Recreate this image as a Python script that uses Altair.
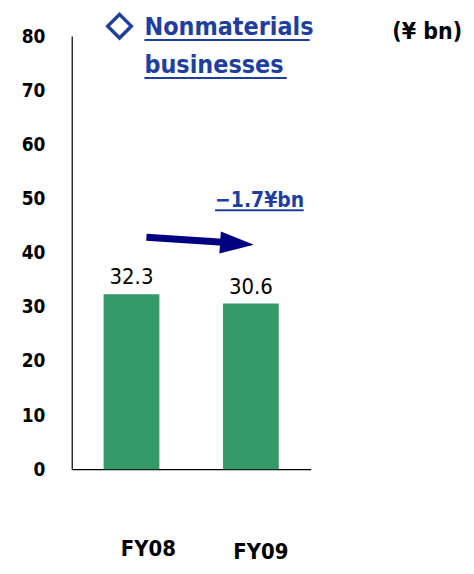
import altair as alt
import pandas as pd

categories = ["FY08", "FY09"]
values = [32.3, 30.6]
value_labels = ["32.3", "30.6"]
y_ticks = [0, 10, 20, 30, 40, 50, 60, 70, 80]
title_line1 = "Nonmaterials"
title_line2 = "businesses"
unit_text = "(¥ bn)"
change_text = "−1.7¥bn"

df = pd.DataFrame({"cat": categories, "val": values, "lbl": value_labels})

FONT = "'DejaVu Sans Condensed', 'Roboto Condensed', Roboto, sans-serif"
BLUE = "#1f3f9f"
GREEN = "#349966"
NAVY = "#000080"

xscale = alt.Scale(domain=categories, paddingInner=0.533, paddingOuter=0.267)
base = alt.Chart(df)

bars = base.mark_bar(color=GREEN).encode(
    x=alt.X("cat:N", scale=xscale, sort=categories,
            axis=alt.Axis(title=None, labels=False, ticks=False, domainColor="black", domainWidth=1.2)),
    y=alt.Y("val:Q", scale=alt.Scale(domain=[0, 80], nice=False),
            axis=alt.Axis(title=None, values=y_ticks, ticks=False, grid=False,
                          domainColor="black", domainWidth=1.2,
                          labelFont=FONT, labelFontWeight="bold",
                          labelFontSize=19, labelColor="black", labelPadding=27)),
)

vlabels = base.mark_text(font=FONT, fontSize=22, color="black",
                         baseline="bottom", dy=-5).encode(
    x=alt.X("cat:N", scale=xscale, sort=categories),
    y="val:Q",
    text="lbl:N",
)

cat1 = base.transform_filter(alt.datum.cat == categories[0]).mark_text(
    font=FONT, fontWeight="bold", fontSize=22, color="black", baseline="alphabetic", dx=17).encode(
    x=alt.X("cat:N", scale=xscale, sort=categories), y=alt.value(522), text="cat:N")
cat2 = base.transform_filter(alt.datum.cat == categories[1]).mark_text(
    font=FONT, fontWeight="bold", fontSize=22, color="black", baseline="alphabetic", dx=10).encode(
    x=alt.X("cat:N", scale=xscale, sort=categories), y=alt.value(525), text="cat:N")

one = alt.Chart(pd.DataFrame({"a": [0]}))

diamond = one.mark_point(shape="diamond", filled=False, color=BLUE, strokeWidth=3.5, size=560,
                         opacity=1).encode(x=alt.value(48), y=alt.value(-10))
t1 = one.mark_text(font=FONT, fontWeight="bold", fontSize=25, color=BLUE, align="left",
                   baseline="alphabetic").encode(x=alt.value(73), y=alt.value(-1), text=alt.value(title_line1))
t2 = one.mark_text(font=FONT, fontWeight="bold", fontSize=25, color=BLUE, align="left",
                   baseline="alphabetic").encode(x=alt.value(73), y=alt.value(37), text=alt.value(title_line2))
u1 = one.mark_rule(color=BLUE, strokeWidth=2).encode(x=alt.value(73), x2=alt.value(239), y=alt.value(4))
u2 = one.mark_rule(color=BLUE, strokeWidth=2).encode(x=alt.value(73), x2=alt.value(216), y=alt.value(42))

unit = one.mark_text(font=FONT, fontWeight="bold", fontSize=23, color="black", align="left",
                     baseline="alphabetic").encode(x=alt.value(322), y=alt.value(3), text=alt.value(unit_text))

chg = one.mark_text(font=FONT, fontWeight="bold", fontSize=21, color=BLUE, align="left",
                    baseline="alphabetic").encode(x=alt.value(144), y=alt.value(172), text=alt.value(change_text))
u3 = one.mark_rule(color=BLUE, strokeWidth=2).encode(x=alt.value(144), x2=alt.value(233), y=alt.value(175))

shaft = one.mark_rule(color=NAVY, strokeWidth=7).encode(
    x=alt.value(75), y=alt.value(202), x2=alt.value(152), y2=alt.value(207))
head = one.mark_point(shape="M-1,-0.65L1,0L-1,0.65Z", filled=True, color=NAVY, opacity=1,
                      size=1156, angle=4).encode(x=alt.value(166), y=alt.value(208.5))

chart = alt.layer(bars, vlabels, cat1, cat2, diamond, t1, t2, u1, u2, unit, chg, u3, shaft, head).properties(
    width=240, height=435,
    autosize=alt.AutoSizeParams(type="none"),
    padding={"left": 64, "top": 27, "right": 156, "bottom": 96},
).configure_view(stroke=None)

chart.save("out.html", embed_options={"renderer": "svg", "actions": False})
